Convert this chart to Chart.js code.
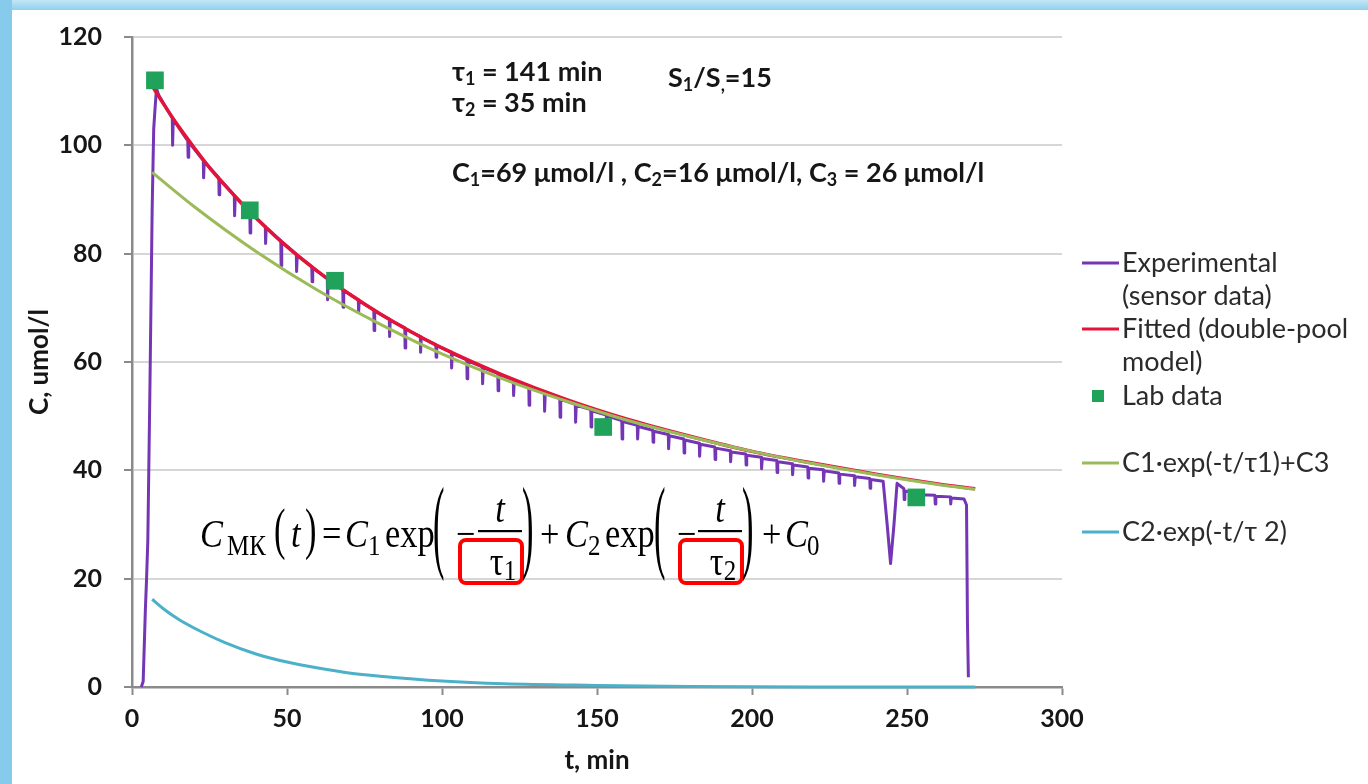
<!DOCTYPE html>
<html>
<head>
<meta charset="utf-8">
<title>Double-pool model</title>
<script src="https://cdn.jsdelivr.net/npm/chart.js@4.4.1/dist/chart.umd.min.js"></script>
<style>
  html, body { margin: 0; padding: 0; background: #fff; }
  #wrap { position: relative; width: 1368px; height: 784px; }
</style>
</head>
<body>
<div id="wrap"><canvas id="chart" width="1368" height="784"></canvas></div>
<script>
// ── Data ──────────────────────────────────────────────────────────────────────
// sensor trace: initial rise, then a drop every ~5 min, a dip near 245 and the final fall
const sensorT = [
  3.0, 3.6, 4.3, 4.7, 5.1, 5.8, 6.5, 7.0, 7.4, 7.9, 8.6,
  13.0, 13.1, 13.3,  18.0, 18.1, 18.3,  23.0, 23.1, 23.3,  28.0, 28.1, 28.3,  33.0, 33.1, 33.3,  38.0, 38.1, 38.3,
  43.0, 43.1, 43.3,  48.0, 48.1, 48.3,  53.0, 53.1, 53.3,  58.0, 58.1, 58.3,  63.0, 63.1, 63.3,  68.0, 68.1, 68.3,
  73.0, 73.1, 73.3,  78.0, 78.1, 78.3,  83.0, 83.1, 83.3,  88.0, 88.1, 88.3,  93.0, 93.1, 93.3,  98.0, 98.1, 98.3,
  103.0, 103.1, 103.3,  108.0, 108.1, 108.3,  113.0, 113.1, 113.3,  118.0, 118.1, 118.3,  123.0, 123.1, 123.3,  128.0, 128.1, 128.3,
  133.0, 133.1, 133.3,  138.0, 138.1, 138.3,  143.0, 143.1, 143.3,  148.0, 148.1, 148.3,  153.0, 153.1, 153.3,  158.0, 158.1, 158.3,
  163.0, 163.1, 163.3,  168.0, 168.1, 168.3,  173.0, 173.1, 173.3,  178.0, 178.1, 178.3,  183.0, 183.1, 183.3,  188.0, 188.1, 188.3,
  193.0, 193.1, 193.3,  198.0, 198.1, 198.3,  203.0, 203.1, 203.3,  208.0, 208.1, 208.3,  213.0, 213.1, 213.3,  218.0, 218.1, 218.3,
  223.0, 223.1, 223.3,  228.0, 228.1, 228.3,  233.0, 233.1, 233.3,  238.0, 238.1, 238.3,
  242.3, 243.6, 244.7, 245.8, 246.8,
  249.0, 249.1, 249.3,  254.0, 254.1, 254.3,  259.0, 259.1, 259.3,  264.0, 264.1, 264.3,
  268.4, 269.2, 269.5, 269.8
];
const sensorC = [
  0, 1.0, 14.0, 20.0, 27.0, 56.0, 88.0, 103.0, 106.5, 110.5, 109.3,
  105.0, 100.0, 104.8,  100.8, 97.8, 100.6,  97.2, 94.0, 97.0,  94.0, 90.9, 93.8,  90.8, 87.0, 90.6,  87.8, 83.8, 87.6,
  85.0, 81.9, 84.8,  82.4, 77.8, 82.2,  79.9, 76.7, 79.7,  77.6, 74.8, 77.4,  75.4, 71.5, 75.2,  73.4, 70.1, 73.2,
  71.5, 69.2, 71.3,  69.6, 65.8, 69.4,  67.9, 64.7, 67.7,  66.3, 62.6, 66.1,  64.7, 61.8, 64.5,  63.2, 60.9, 63.0,
  61.8, 58.9, 61.6,  60.4, 56.9, 60.2,  59.1, 56.0, 58.9,  57.9, 54.7, 57.7,  56.7, 53.8, 56.5,  55.6, 52.0, 55.4,
  54.4, 50.9, 54.2,  53.3, 49.8, 53.1,  52.2, 48.9, 52.0,  51.2, 48.0, 51.0,  50.2, 47.2, 50.0,  49.2, 45.8, 49.0,
  48.3, 45.8, 48.1,  47.4, 45.2, 47.2,  46.6, 44.0, 46.4,  45.8, 43.2, 45.6,  45.0, 42.6, 44.8,  44.3, 42.0, 44.1,
  43.6, 41.6, 43.4,  43.0, 41.0, 42.8,  42.4, 40.3, 42.2,  41.8, 39.6, 41.6,  41.2, 39.2, 41.0,  40.6, 38.6, 40.4,
  40.1, 38.0, 39.9,  39.5, 37.6, 39.3,  39.0, 37.2, 38.8,  38.5, 36.7, 38.3,
  38.0, 30.0, 22.8, 30.0, 37.6,
  36.6, 34.6, 36.2,  35.7, 34.2, 35.5,  35.4, 33.8, 35.2,  35.1, 33.8, 34.9,
  34.7, 33.6, 12.0, 1.8
];

// double-pool fit
const fitT = [6.5, 8, 10, 15, 20, 25, 30, 35, 40, 50, 60, 70, 80, 90, 100, 120, 140, 160, 180, 200, 220, 240, 260, 272];
const fitC = [111.0, 109.6, 107.8, 103.5, 99.6, 95.9, 92.6, 89.5, 86.6, 81.3, 76.7, 72.6, 68.9, 65.6, 62.6, 57.5, 53.1, 49.4, 46.3, 43.5, 41.3, 39.3, 37.5, 36.6];

// lab samples
const labT = [7.4, 38.0, 65.5, 152.0, 253.0];
const labC = [112.0, 88.0, 75.0, 48.0, 35.0];

// slow pool + offset
const slowT = [6.5, 20, 40, 60, 80, 100, 120, 140, 160, 180, 200, 220, 240, 260, 272];
const slowC = [95.0, 88.7, 80.4, 73.2, 67.0, 61.5, 56.8, 52.8, 49.2, 46.2, 43.5, 41.2, 39.2, 37.4, 36.5];

// fast pool
const fastT = [6.5, 10, 15, 20, 30, 40, 50, 60, 70, 80, 100, 120, 150, 180, 220, 272];
const fastC = [16.2, 14.5, 12.5, 10.9, 8.2, 6.1, 4.6, 3.5, 2.6, 2.0, 1.1, 0.6, 0.3, 0.1, 0.0, 0.0];

const xTicks = [0, 50, 100, 150, 200, 250, 300];
const yTicks = [0, 20, 40, 60, 80, 100, 120];

const seriesNames = [
  ['Experimental', '(sensor data)'],
  ['Fitted (double-pool', 'model)'],
  ['Lab data'],
  ['C1·exp(-t/τ1)+C3'],
  ['C2·exp(-t/τ 2)'],
];

// ── Style ─────────────────────────────────────────────────────────────────────
const SANS  = "Lato, 'DejaVu Sans', sans-serif";
const SERIF = "'Liberation Serif', 'Times New Roman', serif";
const INK   = '#161616';
const AXIS  = '#8a8a8a';
const COL = {
  sensor: '#7436b4',
  fit:    '#e2143a',
  lab:    '#20a25a',
  slow:   '#9bbb59',
  fast:   '#4bb0c8',
};

const toXY = (xs, ys) => xs.map((x, i) => ({ x, y: ys[i] }));

// ── Frame round the figure ────────────────────────────────────────────────────
const framePlugin = {
  id: 'frame',
  beforeDraw(chart) {
    const { ctx, width, height } = chart;
    ctx.save();
    ctx.fillStyle = '#fff';
    ctx.fillRect(0, 0, width, height);
    const top = ctx.createLinearGradient(0, 0, 0, 10);
    top.addColorStop(0, '#c4e6f6');
    top.addColorStop(1, '#8fd0ee');
    ctx.fillStyle = top;
    ctx.fillRect(0, 0, width, 10);
    ctx.fillStyle = '#86cbeb';
    ctx.fillRect(0, 0, 12, height);
    ctx.restore();
  }
};

// ── Text helpers ──────────────────────────────────────────────────────────────
// parts: [text, isSub]
function richText(ctx, parts, x, y, size, weight) {
  ctx.textBaseline = 'middle';
  ctx.textAlign = 'left';
  parts.forEach(([t, sub]) => {
    const fs = sub ? Math.round(size * 0.66) : size;
    ctx.font = `${weight} ${fs}px ${SANS}`;
    ctx.fillText(t, x, y + (sub ? size * 0.26 : 0));
    x += ctx.measureText(t).width;
  });
  return x;
}

const notes = [
  { x: 452, y: 72,  parts: [['τ'], ['1', 1], [' = 141 min']] },
  { x: 452, y: 103, parts: [['τ'], ['2', 1], [' = 35 min']] },
  { x: 668, y: 78,  parts: [['S'], ['1', 1], ['/S'], [',', 1], ['=15']] },
  { x: 452, y: 173, parts: [['C'], ['1', 1], ['=69 μmol/l , C'], ['2', 1], ['=16 μmol/l, C'], ['3', 1], [' = 26 μmol/l']] },
];

// formula pieces, laid out left to right
const formula = [
  { t: 'C', x: 200, it: 1 }, { t: 'МК', x: 227, sub: 1 },
  { t: '(', x: 274, tall: 1.42 }, { t: 't', x: 291, it: 1 }, { t: ')', x: 305, tall: 1.42 },
  { t: '=', x: 322 },
  { t: 'C', x: 345, it: 1 }, { t: '1', x: 368, sub: 1 }, { t: 'exp', x: 385 },
  { t: '(', x: 433, tall: 2.6 }, { t: '−', x: 456 }, { frac: '1', x: 478 }, { t: ')', x: 522, tall: 2.6 },
  { t: '+', x: 540 },
  { t: 'C', x: 565, it: 1 }, { t: '2', x: 588, sub: 1 }, { t: 'exp', x: 605 },
  { t: '(', x: 654, tall: 2.6 }, { t: '−', x: 677 }, { frac: '2', x: 698 }, { t: ')', x: 742, tall: 2.6 },
  { t: '+', x: 762 },
  { t: 'C', x: 785, it: 1 }, { t: '0', x: 807, sub: 1 },
];

function drawFormula(ctx, base, size) {
  const f = (it, s) => `${it ? 'italic ' : ''}${s}px ${SERIF}`;
  const sx = 0.86;
  const axisY = 531;
  const subSize = Math.round(size * 0.72);
  const put = (t, x, y, font, sy = 1) => {
    ctx.save();
    ctx.font = font;
    ctx.translate(x, y);
    ctx.scale(sx, sy);
    ctx.fillText(t, 0, 0);
    ctx.restore();
  };
  ctx.fillStyle = '#000';
  ctx.textAlign = 'left';
  ctx.textBaseline = 'alphabetic';
  formula.forEach(tok => {
    if (tok.frac) {
      const w = 44;
      ctx.fillRect(tok.x, axisY - 1, w, 2.2);
      ctx.font = f(true, size);
      const tw = ctx.measureText('t').width * sx;
      put('t', tok.x + (w - tw) / 2, axisY - 9, f(true, size));
      ctx.font = f(false, size);
      const gw = ctx.measureText('τ').width * sx;
      ctx.font = f(false, subSize);
      const nw = ctx.measureText(tok.frac).width * sx;
      const dx = tok.x + (w - gw - nw) / 2 + 3;
      put('τ', dx, axisY + 44, f(false, size));
      put(tok.frac, dx + gw, axisY + 49, f(false, subSize));
      // highlight round the time constant
      ctx.save();
      ctx.strokeStyle = '#ff0000';
      ctx.lineWidth = 4;
      ctx.beginPath();
      ctx.roundRect(tok.x - 18, 540, w + 18, 43, 6);
      ctx.stroke();
      ctx.restore();
      return;
    }
    if (tok.tall) {
      // stretched bracket, its middle kept on the fraction bar
      put(tok.t, tok.x, axisY + 4 + size * 0.235 * tok.tall, f(false, size), tok.tall);
      return;
    }
    const s = tok.sub ? subSize : size;
    put(tok.t, tok.x, base + (tok.sub ? size * 0.2 : 0), f(tok.it, s));
  });
}

// ── Legend + notes ────────────────────────────────────────────────────────────
const legendRows = [263, 329, 396, 463, 532];   // centre of first line of each entry

const notesPlugin = {
  id: 'notes',
  afterDraw(chart) {
    const { ctx } = chart;
    ctx.save();

    chart.data.datasets.forEach((ds, i) => {
      const y = legendRows[i];
      if (ds.showLine) {
        ctx.strokeStyle = ds.borderColor;
        ctx.lineWidth = 3;
        ctx.beginPath();
        ctx.moveTo(1082, y);
        ctx.lineTo(1119, y);
        ctx.stroke();
      } else {
        ctx.fillStyle = ds.backgroundColor;
        ctx.fillRect(1092, y - 6, 12, 12);
      }
      ctx.fillStyle = '#2b2b2b';
      ctx.font = `27px ${SANS}`;
      ctx.textAlign = 'left';
      ctx.textBaseline = 'middle';
      seriesNames[i].forEach((line, k) => ctx.fillText(line, 1122, y + k * 33));
    });

    ctx.fillStyle = INK;
    notes.forEach(n => richText(ctx, n.parts, n.x, n.y, 27, 'bold'));

    drawFormula(ctx, 547, 40);
    ctx.restore();
  }
};

// ── Chart ─────────────────────────────────────────────────────────────────────
const tickFont  = { family: SANS, size: 25, weight: 'bold' };
const titleFont = { family: SANS, size: 26, weight: 'bold' };

new Chart(document.getElementById('chart'), {
  type: 'scatter',
  data: {
    datasets: [
      {
        label: seriesNames[0].join(' '),
        data: toXY(sensorT, sensorC),
        showLine: true, borderColor: COL.sensor, borderWidth: 3, borderJoinStyle: 'round',
        pointRadius: 0, tension: 0, order: 4, clip: 4,
      },
      {
        label: seriesNames[1].join(' '),
        data: toXY(fitT, fitC),
        showLine: true, borderColor: COL.fit, borderWidth: 3.5,
        pointRadius: 0, cubicInterpolationMode: 'monotone', order: 3, clip: 4,
      },
      {
        label: seriesNames[2][0],
        data: toXY(labT, labC),
        showLine: false, backgroundColor: COL.lab, borderColor: COL.lab, borderWidth: 0,
        pointStyle: 'rect', pointRadius: 12.5, order: 2, clip: false,
      },
      {
        label: seriesNames[3][0],
        data: toXY(slowT, slowC),
        showLine: true, borderColor: COL.slow, borderWidth: 3,
        pointRadius: 0, cubicInterpolationMode: 'monotone', order: 1, clip: 4,
      },
      {
        label: seriesNames[4][0],
        data: toXY(fastT, fastC),
        showLine: true, borderColor: COL.fast, borderWidth: 3,
        pointRadius: 0, cubicInterpolationMode: 'monotone', order: 0, clip: 4,
      },
    ],
  },
  options: {
    responsive: false,
    animation: false,
    events: [],
    layout: { padding: { left: 0, top: 36, right: 306, bottom: 0 } },
    plugins: {
      legend:  { display: false },
      tooltip: { enabled: false },
    },
    scales: {
      x: {
        type: 'linear',
        min: xTicks[0], max: xTicks[xTicks.length - 1],
        afterBuildTicks: s => { s.ticks = xTicks.map(v => ({ value: v })); },
        afterFit: s => { s.height = 97; },
        ticks: { font: tickFont, color: INK, padding: 9, maxRotation: 0 },
        grid: { drawOnChartArea: false, drawTicks: true, tickLength: 8, tickColor: AXIS, tickWidth: 2 },
        border: { color: AXIS, width: 2.5 },
        title: { display: true, text: 't, min', font: titleFont, color: INK, padding: { top: 0, bottom: 8 } },
      },
      y: {
        min: yTicks[0], max: yTicks[yTicks.length - 1],
        afterBuildTicks: s => { s.ticks = yTicks.map(v => ({ value: v })); },
        afterFit: s => { s.width = 132; },
        ticks: { font: tickFont, color: INK, padding: 22 },
        grid: {
          color: c => (c.tick && c.tick.value === 0 ? 'rgba(0,0,0,0)' : '#d6d6d6'),
          lineWidth: 2, tickLength: 8, tickColor: AXIS, tickWidth: 2,
        },
        border: { color: AXIS, width: 2.5 },
        title: { display: true, text: 'C, umol/l', font: titleFont, color: INK, padding: { top: 24, bottom: 0 } },
      },
    },
  },
  plugins: [framePlugin, notesPlugin],
});
</script>
</body>
</html>
